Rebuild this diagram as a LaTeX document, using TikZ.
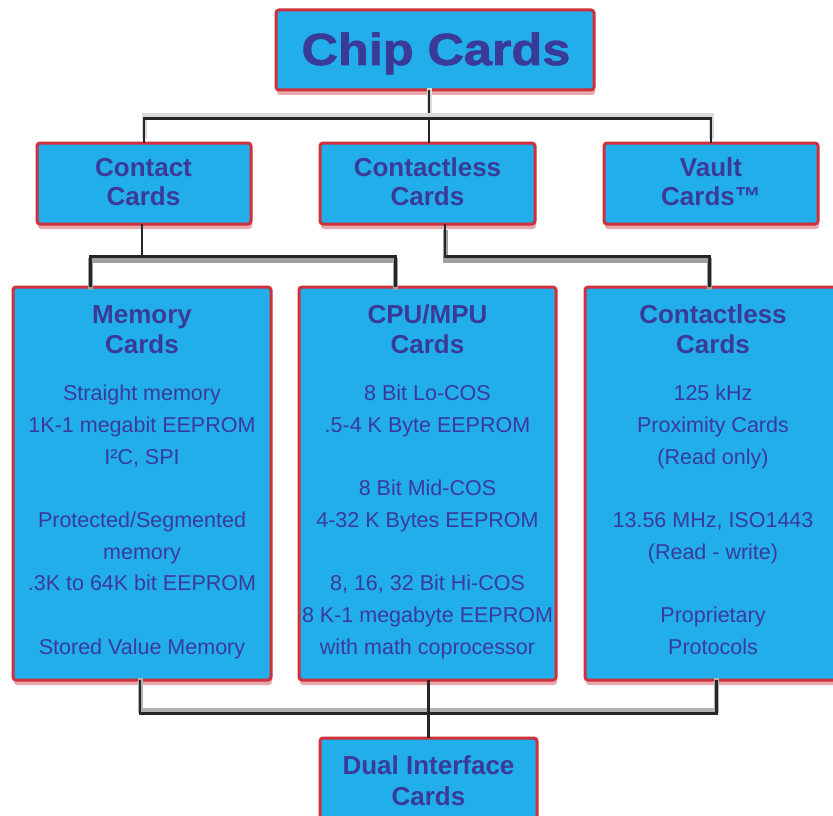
\documentclass[tikz,border=0pt]{standalone}
\usepackage{fontspec}
\usepackage{graphicx}
\setmainfont{Liberation Sans}
\newfontfamily\heavyfont{Liberation Sans}[BoldFeatures={FakeBold=1.5}]
\usetikzlibrary{calc,shadows}
\definecolor{cardfill}{HTML}{22AEEA}
\definecolor{cardline}{HTML}{D0303A}
\definecolor{cardshadow}{HTML}{E49AA0}
\definecolor{cardtext}{HTML}{3A3B98}
\tikzset{
  card/.style={draw=cardline, line width=3pt, fill=cardfill, rounded corners=3pt,
    inner sep=0pt, drop shadow={shadow xshift=1pt, shadow yshift=-5pt, fill=cardshadow, opacity=0.85}},
  cardtitle/.style={text=cardtext, align=center, inner sep=0pt, anchor=north,
    font=\bfseries\fontsize{26}{#1}\selectfont},
  cardbody/.style={text=cardtext, align=center, inner sep=0pt, anchor=north,
    font=\fontsize{21.5}{31.7}\selectfont},
  wire/.style={draw=black!85, line width=2.6pt, line cap=rect},
  shadebelow/.style={preaction={draw=gray!75, line width=5pt, transform canvas={yshift=-4pt}}},
  shadeabove/.style={preaction={draw=gray!60, line width=5pt, transform canvas={yshift=3.5pt}}},
  shadelight/.style={preaction={draw=gray!30, line width=5pt, transform canvas={yshift=3pt}}},
}
\begin{document}
\begin{tikzpicture}[x=1pt,y=-1pt]
\useasboundingbox (0,0) rectangle (833,816);
\fill[white] (0,0) rectangle (833,816);

% boxes
\node[card, minimum width=318pt, minimum height=80pt] (chip) at (435,50) {};
\node[card, minimum width=214pt, minimum height=81pt] (contact) at (144,183.5) {};
\node[card, minimum width=215pt, minimum height=81pt] (cless) at (427.5,183.5) {};
\node[card, minimum width=214pt, minimum height=81pt] (vault) at (711,183.5) {};
\node[card, minimum width=258pt, minimum height=393pt] (memory) at (142,483.5) {};
\node[card, minimum width=257pt, minimum height=393pt] (cpu) at (427.5,483.5) {};
\node[card, minimum width=255pt, minimum height=393pt] (cless2) at (712.5,483.5) {};
\node[card, minimum width=217pt, minimum height=92pt] (dual) at (428.5,784) {};

% connectors
\coordinate (j1) at ($(chip.south)+(-6,27)$);
\draw[wire, shadelight] (j1 |- chip.south) -- (j1);
\draw[wire, shadelight] (contact.north) |- (j1) -| (vault.north);
\draw[wire] (j1) -- (j1 |- cless.north);

\coordinate (j2) at ($(contact.south)+(-2,31)$);
\draw[wire] (contact.south -| j2) -- (j2);
\draw[wire, shadebelow] ($(memory.north west)+(79,0)$) |- (j2) -| ($(cpu.north west)+(98,0)$);
\draw[wire, shadebelow] ($(cless.south)+(17.5,0)$) -- ++(0,31) -| ($(cless2.north west)+(126,0)$);

\coordinate (j3) at ($(memory.south)+(-2,32)$);
\draw[wire, shadeabove] (j3 |- memory.south) -- (j3) -| ($(cless2.south west)+(133,0)$);
\draw[wire] (cpu.south -| dual.north) -- (dual.north);

% texts
\node[text=cardtext, inner sep=0pt, anchor=base, font=\heavyfont\bfseries\fontsize{45}{50}\selectfont] (chipt) at (436,65) {\scalebox{1.12}[1]{Chip Cards}};

\node[cardtitle=28.3] (contactt) at (143.5,156.9) {\strut Contact\\Cards};
\node[cardtitle=28.3] (clesst) at (427.5,156.9) {\strut Contactless\\Cards};
\node[cardtitle=28.3] (vaultt) at (711,156.9) {\strut Vault\\Cards™};

\node[cardtitle=30] (memoryt) at (142,302) {\strut Memory\\Cards};
\node[cardtitle=30] (cput) at (427.5,302) {\strut CPU/MPU\\Cards};
\node[cardtitle=30] (cless2t) at (713,302) {\strut Contactless\\Cards};

\node[cardbody] (memoryb) at (142,378.3) {\strut Straight memory\\1K-1 megabit EEPROM\\I²C, SPI\\[31.7pt]Protected/Segmented\\memory\\.3K to 64K bit EEPROM\\[31.7pt]Stored Value Memory};
\node[cardbody] (cpub) at (427.5,378.3) {\strut 8 Bit Lo-COS\\.5-4 K Byte EEPROM\\[31.7pt]8 Bit Mid-COS\\4-32 K Bytes EEPROM\\[31.7pt]8, 16, 32 Bit Hi-COS\\8 K-1 megabyte EEPROM\\with math coprocessor};
\node[cardbody] (cless2b) at (713,378.3) {\strut 125 kHz\\Proximity Cards\\(Read only)\\[31.7pt]13.56 MHz, ISO1443\\(Read - write)\\[31.7pt]Proprietary\\Protocols};

\node[cardtitle=31] (dualt) at (428.5,752.3) {\strut Dual Interface\\Cards};
\end{tikzpicture}
\end{document}
